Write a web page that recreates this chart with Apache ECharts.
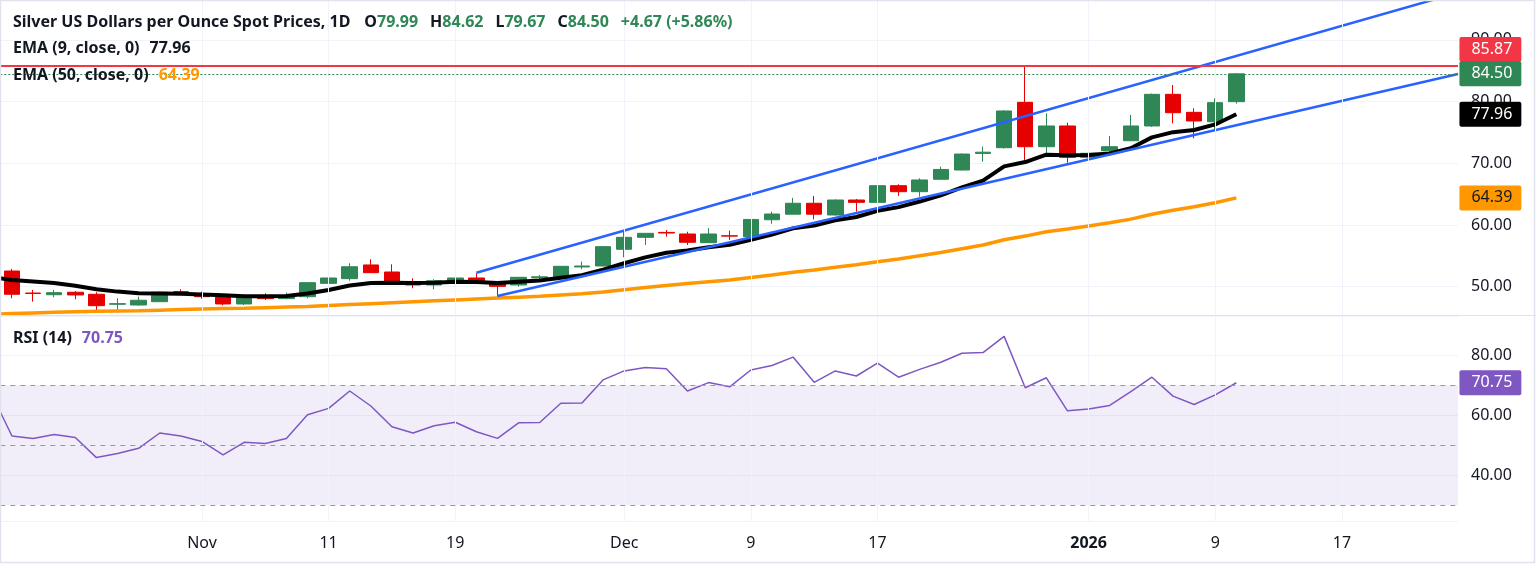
<!DOCTYPE html>
<html>
<head>
<meta charset="utf-8">
<script src="https://cdn.jsdelivr.net/npm/echarts@6/dist/echarts.min.js"></script>
<style>
html,body{margin:0;padding:0;background:#ffffff;}
#c{width:1536px;height:564px;}
</style>
</head>
<body>
<div id="c"></div>
<script>
// ---------------- DATA ----------------
const tradingDates = [
  'Oct 20','Oct 21','Oct 22','Oct 23','Oct 24','Oct 27','Oct 28','Oct 29','Oct 30','Oct 31',
  'Nov 3','Nov 4','Nov 5','Nov 6','Nov 7','Nov 10','Nov 11','Nov 12','Nov 13','Nov 14',
  'Nov 17','Nov 18','Nov 19','Nov 20','Nov 21','Nov 24','Nov 25','Nov 26','Nov 27','Nov 28',
  'Dec 1','Dec 2','Dec 3','Dec 4','Dec 5','Dec 8','Dec 9','Dec 10','Dec 11','Dec 12',
  'Dec 15','Dec 16','Dec 17','Dec 18','Dec 19','Dec 22','Dec 23','Dec 24','Dec 26','Dec 29',
  'Dec 30','Dec 31','Jan 1','Jan 2','Jan 5','Jan 6','Jan 7','Jan 8','Jan 9','Jan 12'
];
const futureDates = ['Jan 13','Jan 14','Jan 15','Jan 16','Jan 17','Jan 18','Jan 19','Jan 20','Jan 21','Jan 22'];

const opens = [null,
  52.54, 48.97, 48.70, 49.10, 48.77, 47.15, 47.03, 47.57, 49.20, 48.82,
  48.38, 47.20, 48.49, 48.06, 48.38, 50.54, 51.30, 53.52, 52.38, 50.71,
  50.28, 50.87, 51.41, 50.60, 50.28, 51.45, 51.46, 53.20, 53.36, 56.06,
  58.00, 58.80, 58.54, 57.13, 58.25, 58.10, 60.85, 61.75, 63.52, 61.62,
  64.05, 63.67, 66.37, 65.40, 67.41, 68.91, 71.60, 72.53, 79.88, 72.69,
  76.05, 70.97, 72.04, 73.66, 76.05, 81.18, 78.26, 76.74, 79.99];
const closes = [null,
  48.77, 48.90, 49.03, 48.66, 46.92, 47.25, 47.80, 49.10, 48.77, 48.38,
  47.20, 48.22, 48.06, 48.54, 50.65, 51.41, 53.23, 52.27, 50.65, 50.28,
  50.97, 51.41, 50.54, 50.05, 51.52, 51.60, 53.30, 53.35, 56.49, 58.00,
  58.65, 58.70, 57.20, 58.54, 58.20, 60.90, 61.78, 63.52, 61.75, 64.05,
  63.67, 66.37, 65.40, 67.30, 69.00, 71.50, 71.80, 78.48, 72.69, 76.05,
  70.97, 71.62, 72.69, 76.05, 81.18, 78.20, 76.86, 79.83, 84.50];
const lows = [null,
  48.12, 47.57, 48.28, 47.96, 46.22, 45.79, 46.92, 47.57, 48.77, 48.06,
  46.98, 47.03, 47.84, 47.95, 48.12, 50.50, 50.97, 52.20, 50.28, 49.74,
  49.58, 50.28, 50.50, 48.40, 50.00, 50.97, 51.40, 52.81, 53.30, 54.77,
  56.76, 58.10, 56.76, 57.10, 57.57, 58.00, 60.20, 61.70, 60.92, 61.55,
  62.16, 63.60, 64.70, 64.59, 67.35, 68.85, 70.26, 72.40, 70.53, 71.62,
  70.10, 70.90, 71.35, 73.60, 75.90, 76.48, 74.05, 75.51, 79.67];
const highs = [null,
  52.87, 49.47, 49.47, 49.30, 49.10, 48.12, 48.38, 49.20, 49.58, 49.20,
  48.38, 48.38, 48.93, 49.03, 50.70, 51.45, 53.79, 54.44, 53.63, 51.36,
  51.20, 52.43, 52.17, 50.71, 51.55, 51.90, 53.35, 54.06, 56.54, 58.91,
  58.70, 59.19, 58.91, 59.48, 59.08, 60.95, 62.16, 64.40, 64.70, 64.15,
  64.21, 66.92, 66.60, 67.57, 69.45, 71.60, 72.69, 78.60, 85.87, 78.10,
  76.58, 71.70, 74.42, 77.83, 81.30, 82.69, 78.91, 80.53, 84.62];

const ema9 = [51.55,
  51.10, 50.85, 50.60, 50.15, 49.60, 49.20, 48.95, 48.90, 48.85, 48.75,
  48.60, 48.45, 48.45, 48.50, 48.90, 49.45, 50.20, 50.60, 50.65, 50.60,
  50.65, 50.80, 50.75, 50.60, 50.80, 51.00, 51.45, 51.85, 52.75, 53.80,
  54.75, 55.50, 55.85, 56.40, 56.80, 57.60, 58.45, 59.45, 59.90, 60.75,
  61.30, 62.30, 62.90, 63.80, 64.80, 66.10, 67.20, 69.50, 70.20, 71.40,
  71.30, 71.35, 71.60, 72.45, 74.20, 75.05, 75.40, 76.30, 77.96];
const ema50 = [45.50,
  45.65, 45.75, 45.85, 45.95, 46.00, 46.05, 46.10, 46.20, 46.30, 46.40,
  46.45, 46.50, 46.60, 46.70, 46.80, 46.95, 47.10, 47.25, 47.40, 47.55,
  47.70, 47.85, 48.00, 48.15, 48.30, 48.45, 48.65, 48.85, 49.15, 49.50,
  49.85, 50.20, 50.50, 50.80, 51.10, 51.50, 51.90, 52.35, 52.70, 53.15,
  53.55, 54.05, 54.50, 55.00, 55.55, 56.15, 56.75, 57.60, 58.20, 58.90,
  59.35, 59.85, 60.35, 60.95, 61.75, 62.40, 62.95, 63.60, 64.39];
const rsi14 = [67.5,
  53.0, 52.2, 53.5, 52.5, 45.8, 47.2, 48.9, 54.0, 53.0, 51.2,
  46.7, 50.9, 50.5, 52.2, 60.1, 62.2, 68.0, 63.0, 56.1, 54.0,
  56.4, 57.6, 54.4, 52.2, 57.4, 57.5, 63.9, 64.0, 71.7, 74.7,
  75.8, 75.4, 68.0, 70.8, 69.4, 75.0, 76.5, 79.3, 70.9, 74.7,
  73.0, 77.3, 72.6, 75.2, 77.6, 80.6, 80.8, 86.2, 69.1, 72.4,
  61.4, 62.0, 63.2, 67.8, 72.6, 66.3, 63.5, 66.7, 70.75];

// trendline anchors: [category, price]
const upperTrend = [['Nov 20', 52.27], ['END', 97.65]];
const lowerTrend = [['Nov 21', 48.49], ['END', 84.48]];

const resistanceLevel = 85.87;
const lastPrice = 84.50;
const rsiLevels = [70, 50, 30];

const tickLabels = {
  'Nov 3': 'Nov', 'Nov 11': '11', 'Nov 19': '19', 'Dec 1': 'Dec', 'Dec 9': '9',
  'Dec 17': '17', 'Jan 1': '2026', 'Jan 9': '9', 'Jan 17': '17'
};
const headerValues = ['79.99', '84.62', '79.67', '84.50', '+4.67 (+5.86%)'];

// ---------------- LAYOUT ----------------
const categories = tradingDates.concat(futureDates);
const CAT_COUNT = categories.length;
const PLOT_RIGHT = 1458;
const BAR_W = 21.11;
const GRID_LEFT = PLOT_RIGHT - CAT_COUNT * BAR_W;
const MAIN_TOP = 0, MAIN_H = 315;
const RSI_TOP = 316, RSI_H = 205;
const PRICE_MIN = 45.41, PRICE_MAX = 96.47;
const RSI_MIN = 24.67, RSI_MAX = 93.0;
const TAG_DIST = 11;

const FONT = '"Noto Sans", Roboto, "DejaVu Sans", sans-serif';
const TXT = '#131722';
const UP = '#2e8755';
const DOWN = '#e60000';
const GRIDC = '#f0f3fa';

const lastCat = categories[CAT_COUNT - 1];
const lastTrade = tradingDates.length - 1;

const candleData = tradingDates.map((d, i) =>
  opens[i] == null ? ['-', '-', '-', '-'] : [opens[i], closes[i], lows[i], highs[i]]);

function trendData(t) {
  return t.map(p => [p[0] === 'END' ? CAT_COUNT - 0.5 : categories.indexOf(p[0]), p[1]]);
}

const vGrid = Object.keys(tickLabels).map(c => ({
  xAxis: c, lineStyle: { color: GRIDC, width: 1, type: 'solid' }, label: { show: false }
}));

function tag(value, bg, fg, offsetY) {
  return {
    coord: [lastCat, value], value: value,
    symbol: 'rect', symbolSize: 2, itemStyle: { color: 'rgba(0,0,0,0)', borderWidth: 0 },
    label: {
      show: true, position: 'right', distance: TAG_DIST, offset: [0, offsetY || 0],
      formatter: value.toFixed(2),
      color: fg, backgroundColor: bg, padding: [4, 9, 3, 12],
      fontSize: 16, lineHeight: 18, fontFamily: FONT, borderRadius: 2
    }
  };
}

const richBase = { fontFamily: FONT, fontSize: 16, lineHeight: 20 };
const titleRich = {
  n: Object.assign({ color: TXT }, richBase),
  k: Object.assign({ color: TXT, padding: [0, 0, 0, 12] }, richBase),
  k0: Object.assign({ color: TXT, padding: [0, 0, 0, 14] }, richBase),
  v: Object.assign({ color: UP }, richBase),
  c: Object.assign({ color: UP, padding: [0, 0, 0, 12] }, richBase),
  e: Object.assign({ color: TXT, padding: [0, 0, 0, 10] }, richBase),
  o: Object.assign({ color: '#ff9800', padding: [0, 0, 0, 10] }, richBase),
  p: Object.assign({ color: '#7e57c2', padding: [0, 0, 0, 10] }, richBase)
};

const option = {
  animation: false,
  backgroundColor: '#ffffff',
  title: [
    { left: 13, top: 12, padding: 0,
      text: '{n|Silver US Dollars per Ounce Spot Prices, 1D}{k0|O}{v|' + headerValues[0] + '}{k|H}{v|' + headerValues[1] +
            '}{k|L}{v|' + headerValues[2] + '}{k|C}{v|' + headerValues[3] + '}{c|' + headerValues[4] + '}',
      textStyle: { rich: titleRich } },
    { left: 13, top: 38, padding: 0,
      text: '{n|EMA (9, close, 0)}{e|' + ema9[lastTrade].toFixed(2) + '}', textStyle: { rich: titleRich } },
    { left: 13, top: 65, padding: 0,
      text: '{n|EMA (50, close, 0)}{o|' + ema50[lastTrade].toFixed(2) + '}', textStyle: { rich: titleRich } },
    { left: 13, top: 328, padding: 0,
      text: '{n|RSI (14)}{p|' + rsi14[lastTrade].toFixed(2) + '}', textStyle: { rich: titleRich } }
  ],
  grid: [
    { left: GRID_LEFT, right: 1536 - PLOT_RIGHT, top: MAIN_TOP, height: MAIN_H, containLabel: false, outerBoundsMode: 'none' },
    { left: GRID_LEFT, right: 1536 - PLOT_RIGHT, top: RSI_TOP, height: RSI_H, containLabel: false, outerBoundsMode: 'none' }
  ],
  xAxis: [
    { type: 'category', gridIndex: 0, data: categories, boundaryGap: true,
      axisLine: { show: false }, axisTick: { show: false }, axisLabel: { show: false }, splitLine: { show: false } },
    { type: 'category', gridIndex: 1, data: categories, boundaryGap: true,
      axisLine: { show: false }, axisTick: { show: false }, splitLine: { show: false },
      axisLabel: {
        show: true, interval: (i, v) => tickLabels[v] !== undefined,
        formatter: v => tickLabels[v] === '2026' ? '{b|2026}' : (tickLabels[v] || ''),
        color: TXT, fontSize: 16, fontFamily: FONT, margin: 14,
        rich: { b: { fontWeight: 'bold', fontSize: 16, fontFamily: FONT, color: TXT } }
      } },
    { type: 'value', gridIndex: 0, min: -0.5, max: CAT_COUNT - 0.5, show: false }
  ],
  yAxis: [
    { type: 'value', gridIndex: 0, position: 'right', min: PRICE_MIN, max: PRICE_MAX, splitNumber: 5,
      axisLine: { show: false }, axisTick: { show: false },
      axisLabel: { color: TXT, fontSize: 16, fontFamily: FONT, margin: 13, showMinLabel: false, showMaxLabel: false,
        formatter: v => v.toFixed(2) },
      splitLine: { show: true, lineStyle: { color: GRIDC, width: 1 } } },
    { type: 'value', gridIndex: 1, position: 'right', min: RSI_MIN, max: RSI_MAX, splitNumber: 3,
      axisLine: { show: false }, axisTick: { show: false },
      axisLabel: { color: TXT, fontSize: 16, fontFamily: FONT, margin: 13, showMinLabel: false, showMaxLabel: false,
        formatter: v => v.toFixed(2) },
      splitLine: { show: true, lineStyle: { color: GRIDC, width: 1 } } }
  ],
  series: [
    { name: 'Silver', type: 'candlestick', xAxisIndex: 0, yAxisIndex: 0, data: candleData, barWidth: 16,
      itemStyle: { color: UP, color0: DOWN, borderColor: UP, borderColor0: DOWN, borderWidth: 1 },
      markLine: { silent: true, symbol: ['none', 'none'], animation: false,
        data: vGrid.concat([
          { yAxis: resistanceLevel, lineStyle: { color: '#f23645', width: 2, type: 'solid' }, label: { show: false } },
          { yAxis: lastPrice, lineStyle: { color: UP, width: 1, type: [2, 2] }, label: { show: false } }
        ]) } },
    { name: 'EMA50', type: 'line', xAxisIndex: 0, yAxisIndex: 0, data: ema50, showSymbol: false, symbol: 'none',
      lineStyle: { color: '#ff9800', width: 3.5 }, itemStyle: { color: '#ff9800' } },
    { name: 'EMA9', type: 'line', xAxisIndex: 0, yAxisIndex: 0, data: ema9, showSymbol: false, symbol: 'none',
      lineStyle: { color: '#000000', width: 4 }, itemStyle: { color: '#000000' } },
    { name: 'Upper', type: 'line', xAxisIndex: 2, yAxisIndex: 0, data: trendData(upperTrend), showSymbol: false, symbol: 'none',
      lineStyle: { color: '#2962ff', width: 2.5 }, clip: true },
    { name: 'Lower', type: 'line', xAxisIndex: 2, yAxisIndex: 0, data: trendData(lowerTrend), showSymbol: false, symbol: 'none',
      lineStyle: { color: '#2962ff', width: 2.5 }, clip: true },
    { name: 'RSI', type: 'line', xAxisIndex: 1, yAxisIndex: 1, data: rsi14, showSymbol: false, symbol: 'none',
      lineStyle: { color: '#7e57c2', width: 1.5 }, itemStyle: { color: '#7e57c2' },
      markArea: { silent: true, itemStyle: { color: 'rgba(126,87,194,0.1)' },
        data: [[{ yAxis: rsiLevels[2] }, { yAxis: rsiLevels[0] }]] },
      markLine: { silent: true, symbol: ['none', 'none'], animation: false,
        data: vGrid.concat(rsiLevels.map(l => ({ yAxis: l, lineStyle: { color: '#9598a1', width: 1, type: [5, 5] }, label: { show: false } }))) } },
    // price tags on the right scale
    { name: 'PriceTags', type: 'scatter', xAxisIndex: 0, yAxisIndex: 0, data: [], silent: true, z: 20,
      markPoint: { silent: true, animation: false,
        data: [ tag(resistanceLevel, '#f23645', '#ffffff', -16), tag(lastPrice, UP, '#ffffff', 0),
                tag(ema9[lastTrade], '#000000', '#ffffff', 0), tag(ema50[lastTrade], '#ff9800', '#131722', 0) ] } },
    { name: 'RsiTag', type: 'scatter', xAxisIndex: 1, yAxisIndex: 1, data: [], silent: true, z: 20,
      markPoint: { silent: true, animation: false,
        data: [ tag(rsi14[lastTrade], '#7e57c2', '#ffffff', 0) ] } }
  ],
  graphic: [
    { type: 'line', silent: true, z: 100, shape: { x1: 0, y1: MAIN_TOP + MAIN_H + 0.5, x2: 1536, y2: MAIN_TOP + MAIN_H + 0.5 },
      style: { stroke: '#e0e3eb', lineWidth: 1 } },
    { type: 'rect', silent: true, z: 100, shape: { x: 0.5, y: 0.5, width: 1534, height: 562 },
      style: { fill: null, stroke: '#e0e3eb', lineWidth: 1.5 } }
  ]
};

const chart = echarts.init(document.getElementById('c'));
chart.setOption(option);
</script>
</body>
</html>
